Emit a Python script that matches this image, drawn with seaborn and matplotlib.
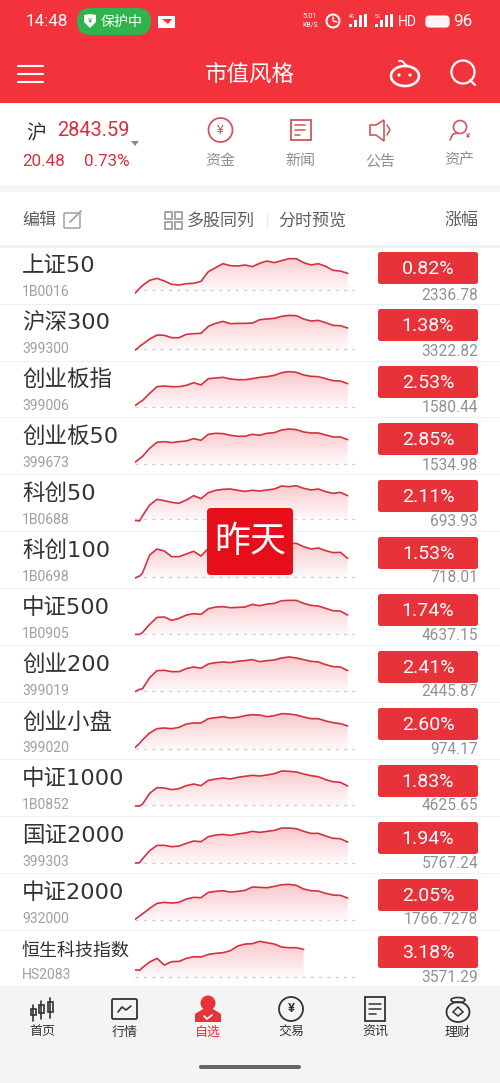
import numpy as np
import pandas as pd
import matplotlib
matplotlib.use('Agg')
import matplotlib.pyplot as plt
import seaborn as sns
from matplotlib.colors import LinearSegmentedColormap
from matplotlib.patches import Circle, Ellipse, FancyBboxPatch, Polygon, Rectangle

names = ['上证50', '沪深300', '创业板指', '创业板50', '科创50', '科创100', '中证500',
         '创业200', '创业小盘', '中证1000', '国证2000', '中证2000', '恒生科技指数']
codes = ['1B0016', '399300', '399006', '399673', '1B0688', '1B0698', '1B0905',
         '399019', '399020', '1B0852', '399303', '932000', 'HS2083']
changes = ['0.82%', '1.38%', '2.53%', '2.85%', '2.11%', '1.53%', '1.74%',
           '2.41%', '2.60%', '1.83%', '1.94%', '2.05%', '3.18%']
closes = ['2336.78', '3322.82', '1580.44', '1534.98', '693.93', '718.01', '4637.15',
          '2445.87', '974.17', '4625.65', '5767.24', '1766.7278', '3571.29']

# minutes since the open, first reading at 0 and 5 then every 8 minutes
minutes = [0, 5] + list(range(8, 233, 8))

# level of each index above the previous close (relative units)
sz50 = [-10, 5, 13, 29, 35, 27, 17, 15, 19, 20, 26, 55, 67, 79, 73, 72, 75, 70, 80, 87, 82, 88, 94, 94, 82, 75, 79, 71, 59, 57, 50]
hs300 = [-5, 7, 13, 29, 41, 40, 33, 33, 43, 45, 46, 67, 76, 82, 75, 76, 76, 77, 87, 89, 91, 97, 100, 99, 89, 83, 85, 78, 70, 69, 62]
cyb = [4, 14, 19, 41, 61, 63, 61, 61, 65, 73, 66, 85, 87, 89, 84, 82, 82, 85, 89, 91, 95, 103, 106, 104, 96, 92, 91, 85, 79, 78, 70]
cyb50 = [6, 17, 23, 48, 66, 68, 65, 68, 70, 77, 72, 90, 93, 92, 87, 84, 84, 90, 87, 93, 95, 103, 106, 104, 97, 94, 94, 88, 82, 82, 74]
kc50 = [-4, -6, 9, 42, 59, 55, 50, 47, 57, 70, 61, 79, 86, 89, 90, 86, 83, 86, 84, 87, 90, 99, 97, 100, 92, 87, 90, 82, 77, 80, 70]
kc100 = [-3, 3, 11, 66, 84, 78, 61, 61, 69, 77, 63, 86, 96, 101, 101, 96, 96, 99, 96, 101, 101, 106, 101, 101, 91, 84, 87, 79, 73, 74, 56]
zz500 = [-2, -2, 3, 28, 49, 50, 40, 46, 56, 60, 58, 75, 80, 81, 78, 79, 80, 88, 84, 89, 91, 99, 100, 100, 91, 85, 83, 76, 69, 68, 56]
cy200 = [-1, 6, 7, 41, 62, 63, 59, 59, 68, 73, 69, 82, 86, 88, 86, 90, 92, 95, 89, 92, 94, 100, 103, 100, 95, 90, 88, 80, 74, 73, 62]
cyxp = [4, 17, 27, 48, 61, 63, 61, 65, 75, 78, 78, 91, 94, 97, 93, 95, 100, 103, 102, 97, 100, 106, 105, 102, 96, 91, 91, 84, 79, 76, 69]
zz1000 = [-3, -3, 2, 35, 52, 51, 46, 49, 58, 63, 58, 74, 78, 81, 78, 83, 86, 89, 87, 90, 94, 102, 101, 99, 93, 88, 85, 76, 70, 68, 57]
gz2000 = [-1, 0, 11, 36, 52, 52, 48, 50, 58, 65, 63, 78, 83, 85, 82, 86, 89, 94, 91, 94, 97, 104, 104, 102, 94, 88, 88, 80, 73, 72, 62]
zz2000 = [1, 11, 17, 34, 49, 52, 50, 52, 62, 67, 66, 82, 85, 87, 83, 85, 88, 98, 97, 96, 100, 105, 106, 103, 92, 87, 86, 79, 74, 73, 65]
hstech = [21, 19, 27, 44, 55, 35, 45, 46, 55, 60, 59, 67, 70, 72, 78, 92, 98, 99, 106, 102, 98, 89, 87, 87, 82]

curves = [sz50, hs300, cyb, cyb50, kc50, kc100, zz500, cy200, cyxp, zz1000, gz2000, zz2000, hstech]

RED = '#f2333c'
BADGE = '#e8323a'
LINE = '#d4323f'
W, H = 500, 1083

sns.set_theme(style='white')
plt.rcParams['font.family'] = ['Roboto', 'Noto Sans CJK SC', 'DejaVu Sans']
CJK = ['Noto Sans CJK SC', 'DejaVu Sans']
WIDE = ['DejaVu Sans', 'Noto Sans CJK SC']

fig = plt.figure(figsize=(W / 100, H / 100), dpi=100)


def px_axes(zorder):
    ax = fig.add_axes([0, 0, 1, 1], zorder=zorder)
    ax.set_xlim(0, W)
    ax.set_ylim(H, 0)
    ax.set_axis_off()
    return ax


def txt(ax, x, y, s, px, color='#333333', ha='center', family=None, **kw):
    ax.text(x, y + 1, s, fontsize=px * 0.72, color=color, ha=ha, va='center',
            family=family or CJK, **kw)


def rrect(ax, x0, y0, x1, y1, r, **kw):
    ax.add_patch(FancyBboxPatch((x0 + r, y0 + r), x1 - x0 - 2 * r, y1 - y0 - 2 * r,
                                boxstyle='round,pad=%f,rounding_size=%f' % (r, r), **kw))


def seg(ax, xs, ys, color, lw=1.3):
    ax.plot(xs, ys, color=color, lw=lw, solid_capstyle='round')


bg = px_axes(0)

# red header and grey bands
bg.add_patch(Rectangle((0, 0), W, 103, color=RED, lw=0))
bg.add_patch(Rectangle((0, 185), W, 7, color='#f4f4f4', lw=0))
bg.add_patch(Rectangle((0, 245), W, 3, color='#f1f1f1', lw=0))
bg.add_patch(Rectangle((0, 986), W, 97, color='#f4f4f4', lw=0))

# status bar
txt(bg, 26, 21, '14:48', 17, 'white', ha='left', family='Roboto')
rrect(bg, 77, 8, 151, 35, 13.5, fc='#2fb34d', ec='none')
bg.add_patch(Polygon([[84, 15], [90, 14], [96, 15], [96, 22], [90, 28], [84, 22]], fc='white', ec='none'))
txt(bg, 90, 20, '¥', 8, '#2fb34d', family='Roboto')
txt(bg, 122, 21, '保护中', 14, 'white')
bg.add_patch(Rectangle((158, 16), 17, 12, fc='white', ec='none'))
bg.add_patch(Polygon([[162, 19], [172, 19], [168, 24]], fc=RED, ec='none'))
txt(bg, 310, 16, '5.01', 7.5, 'white', family='Roboto')
txt(bg, 310, 24, 'KB/S', 7, 'white', family='Roboto')
bg.add_patch(Circle((333, 21), 6.5, fc='none', ec='white', lw=1.4))
seg(bg, [333, 333, 337], [17, 21, 22], 'white', 1)
for x0, label in [(349, '4G'), (375, '5G')]:
    txt(bg, x0 + 3, 15, label, 5, 'white', family='Roboto')
    for k, top in enumerate([24, 20, 15, 14]):
        bg.add_patch(Rectangle((x0 + k * 5, top), 3, 27 - top, fc='white', ec='none'))
txt(bg, 407, 21, 'HD', 14, 'white', family='Roboto')
rrect(bg, 426, 16, 449, 27, 3, fc='white', ec='white', lw=0.8, alpha=0.95)
txt(bg, 463, 21, '96', 17, 'white', family='Roboto')

# title bar
for y in [66, 74, 82]:
    seg(bg, [18, 43], [y, y], 'white', 1.5)
txt(bg, 250, 73, '市值风格', 22.5, 'white')
bg.add_patch(Ellipse((405, 76), 28, 20, fc='none', ec='white', lw=1.9))
bg.add_patch(Circle((399, 75), 1.6, fc='white', ec='none'))
bg.add_patch(Circle((410, 75), 1.6, fc='white', ec='none'))
seg(bg, [399, 402, 406], [61, 61, 65], 'white', 1.4)
bg.add_patch(Circle((463, 72), 11.5, fc='none', ec='white', lw=1.6))
seg(bg, [470, 475], [80, 85], 'white', 1.6)

# index summary
txt(bg, 36, 133, '沪', 20, '#333333')
txt(bg, 57, 130, '2843.59', 20, '#d5303b', ha='left', family='Roboto')
bg.add_patch(Polygon([[131, 141], [139, 141], [135, 146]], fc='#888888', ec='none'))
txt(bg, 22, 160, '20.48', 17, '#d5303b', ha='left', family='Roboto')
txt(bg, 84, 160, '0.73%', 17, '#d5303b', ha='left', family='Roboto')

ICON = '#d2555c'
bg.add_patch(Circle((220.5, 130), 12, fc='none', ec=ICON, lw=1.3))
txt(bg, 220.5, 129, '¥', 13, ICON, family='Roboto')
bg.add_patch(Rectangle((290.5, 120), 20, 20, fc='none', ec=ICON, lw=1.3))
for y, x1 in [(125, 305), (130, 305), (135, 300)]:
    seg(bg, [295, x1], [y, y], ICON, 1.1)
bg.add_patch(Polygon([[370, 125], [376, 125], [384, 120], [384, 141], [376, 135], [370, 135]],
                     fc='none', ec=ICON, lw=1.2))
seg(bg, [387, 390, 387], [125, 130, 135], ICON, 1.1)
bg.add_patch(Circle((460, 127), 6.5, fc='none', ec=ICON, lw=1.2))
seg(bg, [450, 453, 458], [140, 134, 133], ICON, 1.2)
txt(bg, 468, 135, '¥', 8, ICON, family='Roboto', fontweight='bold')
for x, s in [(220.5, '资金'), (300, '新闻'), (380, '公告'), (459.5, '资产')]:
    txt(bg, x, 160, s, 15, '#8e8e8e')

# list header
GREY = '#5e5e5e'
txt(bg, 22, 219, '编辑', 17, GREY, ha='left')
rrect(bg, 64, 213, 80, 228, 1, fc='none', ec='#a8a8a8', lw=1.2)
seg(bg, [70, 81], [222, 211], '#a8a8a8', 1.4)
for x in [165, 175]:
    for y in [212, 222]:
        bg.add_patch(Rectangle((x, y), 7, 7, fc='none', ec='#9a9a9a', lw=1.2))
txt(bg, 187, 220, '多股同列', 17, GREY, ha='left')
seg(bg, [267, 267], [213, 228], '#ececec', 1)
txt(bg, 278, 220, '分时预览', 17, GREY, ha='left')
txt(bg, 478, 219, '涨幅', 17, GREY, ha='right')

# rows
name_y = [265, 322, 379, 436, 493, 550, 607, 664, 721, 778, 835, 892, 950]
code_y = [291, 348, 405, 462, 519, 576, 633, 690, 747, 804, 861, 918, 974]
badge_y = [268, 325, 382, 439, 496, 553, 610, 667, 724, 781, 838, 895, 952]
close_y = [294, 350, 407, 464, 520, 577, 634, 691, 748, 805, 862, 919, 976]
base_y = [290, 348.7, 407, 464.3, 519, 577, 633.7, 691.3, 749, 805, 862.7, 919.7, 976.7]
line_y = [304.3, 361.3, 417.7, 474.3, 531.7, 588.7, 645, 702, 759.3, 816.3, 873.3, 930]

for y in line_y:
    bg.add_patch(Rectangle((0, y - 0.5), W, 1, color='#efefef', lw=0))

for i, name in enumerate(names):
    if i == 12:
        txt(bg, 22, name_y[i], name, 18, '#333333', ha='left')
    else:
        txt(bg, 22, name_y[i], name, 22.5, '#333333', ha='left', family=WIDE)
    txt(bg, 22, code_y[i], codes[i], 14, '#a0a0a0', ha='left', family='Roboto')
    rrect(bg, 378, badge_y[i] - 16, 478, badge_y[i] + 16, 2.5, fc=BADGE, ec='none')
    txt(bg, 428, badge_y[i], changes[i], 19.5, 'white', family='Roboto')
    txt(bg, 478, close_y[i], closes[i], 15.5, '#8f9295', ha='right', family='Roboto')

# intraday sparklines, 240 minute session
grad_cmap = LinearSegmentedColormap.from_list('fade', ['#ffffff', '#f9c6ca'])
grad = np.linspace(0, 1, 100).reshape(-1, 1)
for i, curve in enumerate(curves):
    df = pd.DataFrame({'minute': minutes[:len(curve)], 'level': curve})
    ax = fig.add_axes([135 / W, 1 - (base_y[i] + 4) / H, 220 / W, 41 / H], zorder=1)
    ax.patch.set_alpha(0)
    poly = ax.fill_between(df['minute'], df['level'], 0, color='none', lw=0)
    im = ax.imshow(grad, extent=[0, 240, -12, 111], origin='lower', aspect='auto',
                   cmap=grad_cmap, vmin=0, vmax=1)
    im.set_clip_path(poly.get_paths()[0], transform=ax.transData)
    ax.axhline(0, color='#d2d2d2', lw=1, dashes=(2.5, 3.5))
    sns.lineplot(data=df, x='minute', y='level', ax=ax, color=LINE, linewidth=1.2, errorbar=None)
    ax.set_xlim(0, 240)
    ax.set_ylim(-12, 111)
    ax.set_axis_off()

# bottom navigation
DARK = '#333333'
for x, top, bot in [(33, 1005, 1018), (41, 1001, 1016), (50, 998, 1015)]:
    bg.add_patch(Rectangle((x - 2.5, top + 4), 5, bot - top - 7, fc='none', ec=DARK, lw=1.2))
    seg(bg, [x, x], [top, bot + 3], DARK, 1.2)
rrect(bg, 112, 999, 137, 1019, 1.5, fc='none', ec=DARK, lw=1.3)
seg(bg, [118, 122, 126, 131], [1012, 1007, 1010, 1006], DARK, 1.2)
bg.add_patch(Circle((208, 1003), 7.5, fc=BADGE, ec='none'))
bg.add_patch(Polygon([[195, 1022], [195, 1014], [203, 1009], [213, 1009], [221, 1014], [221, 1022]],
                     fc=BADGE, ec='none'))
seg(bg, [204, 207, 212], [1016, 1019, 1015], 'white', 1.3)
bg.add_patch(Circle((291, 1009), 12, fc='none', ec=DARK, lw=1.3))
txt(bg, 291, 1008, '¥', 13, DARK, family='Roboto', fontweight='bold')
bg.add_patch(Rectangle((365, 997), 20, 24, fc='none', ec=DARK, lw=1.3))
for y, x1 in [(1004, 381), (1009, 381), (1014, 376)]:
    seg(bg, [369, x1], [y, y], DARK, 1.1)
bg.add_patch(Ellipse((458, 1012), 23, 20, fc='none', ec=DARK, lw=1.3))
bg.add_patch(Ellipse((458, 1000), 14, 5, fc='none', ec=DARK, lw=1.2))
bg.add_patch(Polygon([[458, 1007], [463, 1012], [458, 1016], [453, 1012]], fc='none', ec=DARK, lw=1.1))
for x, s, c in [(42, '首页', DARK), (125, '行情', DARK), (208, '自选', BADGE),
                (291, '交易', DARK), (375, '资讯', DARK), (458, '理财', DARK)]:
    txt(bg, x, 1031, s, 13, c)
rrect(bg, 199, 1065, 301, 1069, 2, fc='#666666', ec='none')

# stamp over the middle rows
top = px_axes(5)
top.patch.set_alpha(0)
rrect(top, 207, 508, 293, 575, 4, fc='#e60f19', ec='none')
txt(top, 250, 541, '昨天', 36, 'white')

fig.savefig('out.png', dpi=100)
